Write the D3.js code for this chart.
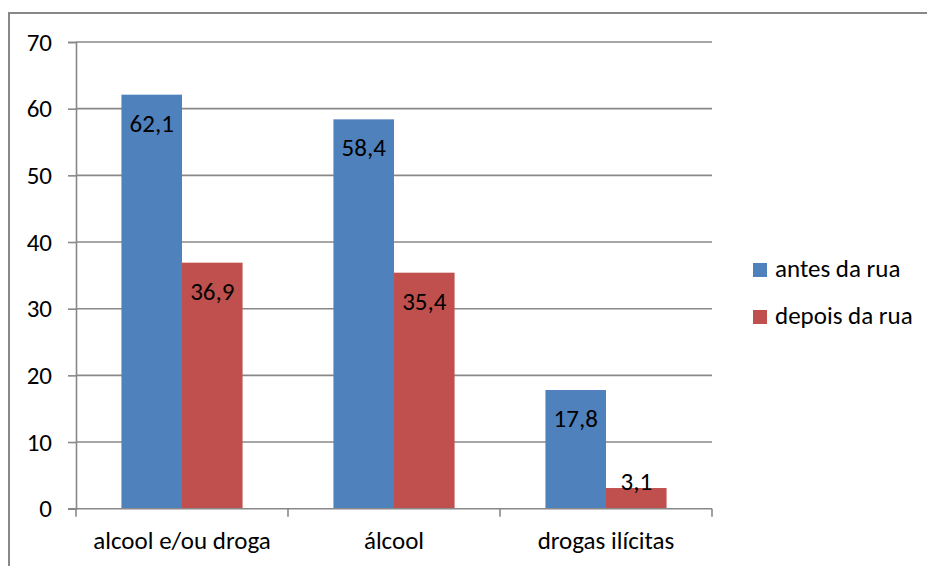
<!DOCTYPE html>
<html>
<head>
<meta charset="utf-8">
<script src="https://cdn.jsdelivr.net/npm/d3@7"></script>
<style>
  html, body { margin: 0; padding: 0; background: #fff; }
  svg { display: block; }
  text { font-family: Carlito, Lato, "Open Sans", sans-serif; fill: #000; }
</style>
</head>
<body>
<svg id="chart" width="927" height="566"></svg>
<script>
// Categories, series and values
const categories = ["alcool e/ou droga", "álcool", "drogas ilícitas"];
const seriesNames = ["antes da rua", "depois da rua"];
const antes = [62.1, 58.4, 17.8];
const depois = [36.9, 35.4, 3.1];
const yTicks = [0, 10, 20, 30, 40, 50, 60, 70];
const colors = ["#4F81BD", "#C0504D"];

const values = [antes, depois];
const fmt = v => String(v).replace(".", ",");

const svg = d3.select("#chart");
const W = 927, H = 566;

const plot = { left: 76, right: 712, top: 42, bottom: 508.7 };
const gridColor = "#888888";
const fontSize = 25;

// Outer chart frame (runs off the right/bottom edges)
svg.append("rect")
  .attr("x", 9).attr("y", 13)
  .attr("width", W + 20).attr("height", H + 20)
  .attr("fill", "none")
  .attr("stroke", gridColor)
  .attr("stroke-width", 2);

const y = d3.scaleLinear().domain([0, 70]).range([plot.bottom, plot.top]);
const x0 = d3.scaleBand().domain(categories).range([plot.left, plot.right]).padding(0);
const x1 = d3.scaleBand().domain(seriesNames).range([0, x0.bandwidth()])
  .paddingInner(0).paddingOuter(0.75);

// Horizontal gridlines
svg.append("g")
  .selectAll("line")
  .data(yTicks.filter(t => t > 0))
  .join("line")
  .attr("x1", plot.left).attr("x2", plot.right)
  .attr("y1", d => y(d)).attr("y2", d => y(d))
  .attr("stroke", gridColor).attr("stroke-width", 1.6);

// Y axis
const yAxis = svg.append("g")
  .attr("transform", `translate(${plot.left},0)`)
  .call(d3.axisLeft(y).tickValues(yTicks).tickSize(8).tickPadding(16).tickFormat(d => d));
yAxis.select(".domain").attr("stroke", gridColor).attr("stroke-width", 1.6);
yAxis.selectAll(".tick line").attr("stroke", gridColor).attr("stroke-width", 1.6);
yAxis.selectAll(".tick text")
  .attr("font-size", fontSize)
  .attr("font-family", "Carlito, Lato, 'Open Sans', sans-serif")
  .attr("fill", "#000")
  .attr("dy", "0.33em");

// Bars
const groups = svg.append("g")
  .selectAll("g")
  .data(categories)
  .join("g")
  .attr("transform", d => `translate(${x0(d)},0)`);

groups.selectAll("rect")
  .data((c, i) => seriesNames.map((s, k) => ({ s, k, v: values[k][i] })))
  .join("rect")
  .attr("x", d => x1(d.s))
  .attr("width", x1.bandwidth())
  .attr("y", d => y(d.v))
  .attr("height", d => y(0) - y(d.v))
  .attr("fill", d => colors[d.k]);

// Value labels inside the bar ends
groups.selectAll("text")
  .data((c, i) => seriesNames.map((s, k) => ({ s, k, v: values[k][i] })))
  .join("text")
  .attr("x", d => x1(d.s) + x1.bandwidth() / 2)
  .attr("y", d => Math.min(y(d.v) + 37, y(0) - 19))
  .attr("text-anchor", "middle")
  .attr("font-size", fontSize)
  .text(d => fmt(d.v));

// X axis
const xAxis = svg.append("g")
  .attr("transform", `translate(0,${plot.bottom})`);
xAxis.append("line")
  .attr("x1", plot.left - 8).attr("x2", plot.right)
  .attr("stroke", gridColor).attr("stroke-width", 1.6);
const bounds = categories.map(c => x0(c)).concat([plot.right]);
xAxis.selectAll("line.tk")
  .data(bounds)
  .join("line")
  .attr("class", "tk")
  .attr("x1", d => d).attr("x2", d => d)
  .attr("y1", 0).attr("y2", 8)
  .attr("stroke", gridColor).attr("stroke-width", 1.6);
xAxis.selectAll("text")
  .data(categories)
  .join("text")
  .attr("x", d => x0(d) + x0.bandwidth() / 2)
  .attr("y", 40.5)
  .attr("text-anchor", "middle")
  .attr("font-size", fontSize)
  .text(d => d);

// Legend
const legend = svg.append("g").attr("transform", "translate(753,263)");
const items = legend.selectAll("g")
  .data(seriesNames)
  .join("g")
  .attr("transform", (d, i) => `translate(0,${i * 47})`);
items.append("rect")
  .attr("width", 14).attr("height", 14)
  .attr("fill", (d, i) => colors[i]);
items.append("text")
  .attr("x", 22).attr("y", 14)
  .attr("font-size", fontSize)
  .text(d => d);
</script>
</body>
</html>
